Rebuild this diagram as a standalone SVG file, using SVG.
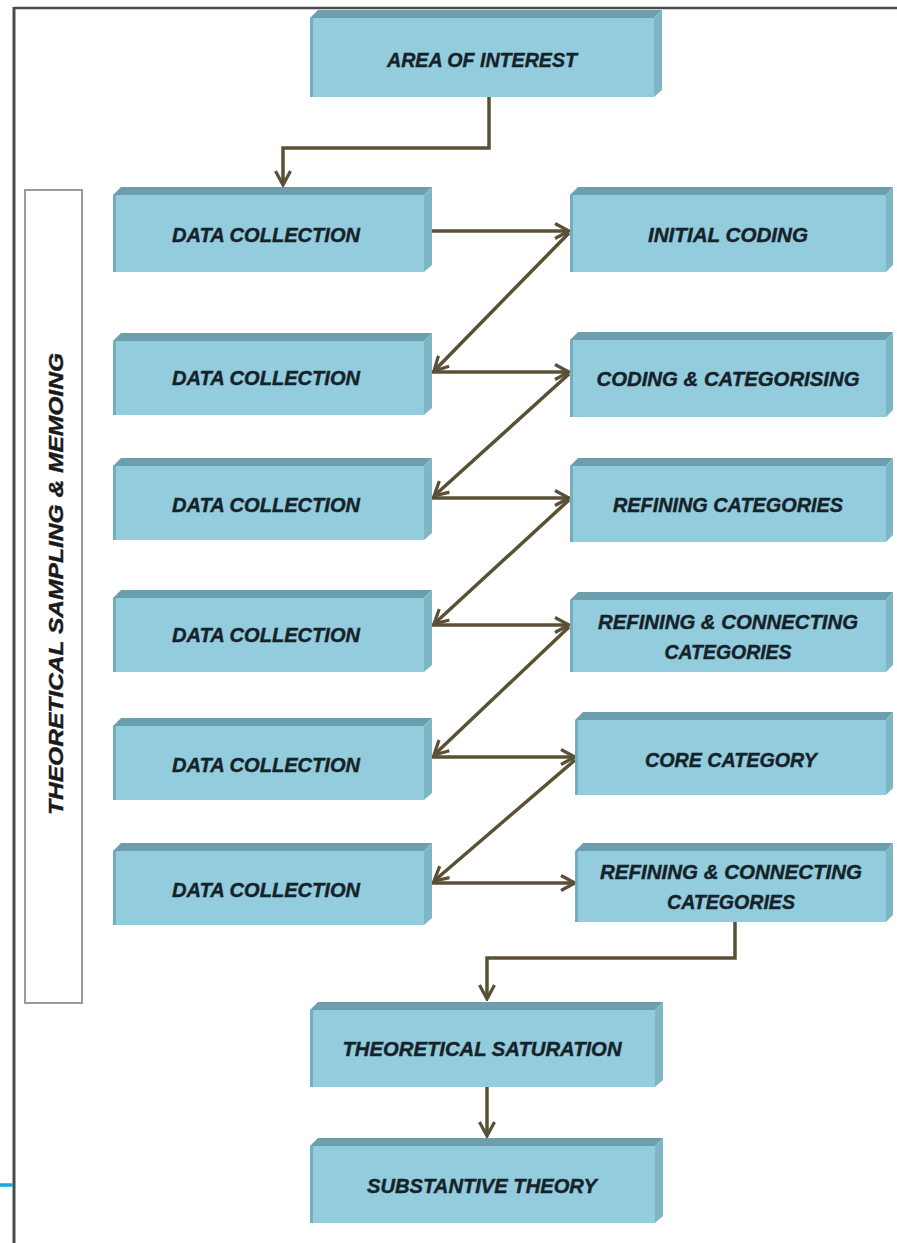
<svg xmlns="http://www.w3.org/2000/svg" width="897" height="1243" viewBox="0 0 897 1243">
<defs>
<style>
.front{fill:#93CCDC;}
.edge{fill:#74AEBE;}
.top{fill:#6B9FAE;}
.side{fill:#7FB6C5;}
.lbl{font-family:"Liberation Sans",Arial,sans-serif;font-weight:bold;font-style:italic;font-size:20px;fill:#16222a;stroke:#16222a;stroke-width:0.4;text-anchor:middle;}
.side-lbl{font-family:"Liberation Sans",Arial,sans-serif;font-weight:bold;font-style:italic;font-size:21px;fill:#1a1a1a;stroke:#1a1a1a;stroke-width:0.4;text-anchor:middle;}
.conn{fill:none;stroke:#5A5036;stroke-width:3.5;stroke-linejoin:miter;}
</style>
<marker id="arr" viewBox="0 0 18 18" refX="16" refY="9" markerWidth="18" markerHeight="18" markerUnits="userSpaceOnUse" orient="auto">
<path d="M2,1.5 L16,9 L2,16.5" fill="none" stroke="#5A5036" stroke-width="3.2"/>
</marker>
</defs>
<rect width="897" height="1243" fill="#ffffff"/>
<g id="frame">
<line x1="14" y1="8" x2="897" y2="8" stroke="#4a4a4a" stroke-width="2.5"/>
<line x1="14" y1="7" x2="14" y2="1243" stroke="#4a4a4a" stroke-width="3"/>
<line x1="0" y1="1185" x2="13" y2="1185" stroke="#12A9E6" stroke-width="3.5"/>
</g>
<g id="sidebar">
<rect x="25" y="190" width="57" height="813" fill="#ffffff" stroke="#9a9a9a" stroke-width="2"/>
<text class="side-lbl" transform="translate(63,584) rotate(-90)" x="0" y="0" textLength="462" lengthAdjust="spacingAndGlyphs">THEORETICAL  SAMPLING  &amp;  MEMOING</text>
</g>
<g id="connectors">
<path class="conn" d="M489,97 V148 H283 V185" marker-end="url(#arr)"/>
<path class="conn" d="M432,231 H569" marker-end="url(#arr)"/>
<path class="conn" d="M569,233 L434,371" marker-end="url(#arr)"/>
<path class="conn" d="M432,372 H569" marker-end="url(#arr)"/>
<path class="conn" d="M569,374 L434,496" marker-end="url(#arr)"/>
<path class="conn" d="M432,498 H569" marker-end="url(#arr)"/>
<path class="conn" d="M569,500 L434,624" marker-end="url(#arr)"/>
<path class="conn" d="M432,625 H569" marker-end="url(#arr)"/>
<path class="conn" d="M569,627 L434,755" marker-end="url(#arr)"/>
<path class="conn" d="M432,757 H575" marker-end="url(#arr)"/>
<path class="conn" d="M575,760 L434,881" marker-end="url(#arr)"/>
<path class="conn" d="M432,883 H575" marker-end="url(#arr)"/>
<path class="conn" d="M735,922 V958 H487 V999" marker-end="url(#arr)"/>
<path class="conn" d="M487,1087 V1136" marker-end="url(#arr)"/>
</g>
<g id="n-area">
<polygon class="top" points="310,18 318,10 662,10 654,18"/>
<polygon class="side" points="654,18 662,10 662,90 654,97"/>
<rect class="front" x="310" y="18" width="344" height="79"/>
<rect class="edge" x="310" y="18" width="3" height="79"/>
<text class="lbl" x="482" y="67" textLength="190" lengthAdjust="spacingAndGlyphs">AREA OF INTEREST</text>
</g>
<g id="n-dc1">
<polygon class="top" points="113,195 121,187 432,187 424,195"/>
<polygon class="side" points="424,195 432,187 432,265 424,272"/>
<rect class="front" x="113" y="195" width="311" height="77"/>
<rect class="edge" x="113" y="195" width="3" height="77"/>
<text class="lbl" x="266" y="242" textLength="188" lengthAdjust="spacingAndGlyphs">DATA COLLECTION</text>
</g>
<g id="n-dc2">
<polygon class="top" points="113,341 121,333 432,333 424,341"/>
<polygon class="side" points="424,341 432,333 432,408 424,415"/>
<rect class="front" x="113" y="341" width="311" height="74"/>
<rect class="edge" x="113" y="341" width="3" height="74"/>
<text class="lbl" x="266" y="385" textLength="188" lengthAdjust="spacingAndGlyphs">DATA COLLECTION</text>
</g>
<g id="n-dc3">
<polygon class="top" points="113,466 121,458 432,458 424,466"/>
<polygon class="side" points="424,466 432,458 432,533 424,540"/>
<rect class="front" x="113" y="466" width="311" height="74"/>
<rect class="edge" x="113" y="466" width="3" height="74"/>
<text class="lbl" x="266" y="512" textLength="188" lengthAdjust="spacingAndGlyphs">DATA COLLECTION</text>
</g>
<g id="n-dc4">
<polygon class="top" points="113,598 121,590 432,590 424,598"/>
<polygon class="side" points="424,598 432,590 432,665 424,672"/>
<rect class="front" x="113" y="598" width="311" height="74"/>
<rect class="edge" x="113" y="598" width="3" height="74"/>
<text class="lbl" x="266" y="642" textLength="188" lengthAdjust="spacingAndGlyphs">DATA COLLECTION</text>
</g>
<g id="n-dc5">
<polygon class="top" points="113,726 121,718 432,718 424,726"/>
<polygon class="side" points="424,726 432,718 432,793 424,800"/>
<rect class="front" x="113" y="726" width="311" height="74"/>
<rect class="edge" x="113" y="726" width="3" height="74"/>
<text class="lbl" x="266" y="772" textLength="188" lengthAdjust="spacingAndGlyphs">DATA COLLECTION</text>
</g>
<g id="n-dc6">
<polygon class="top" points="113,851 121,843 432,843 424,851"/>
<polygon class="side" points="424,851 432,843 432,918 424,925"/>
<rect class="front" x="113" y="851" width="311" height="74"/>
<rect class="edge" x="113" y="851" width="3" height="74"/>
<text class="lbl" x="266" y="897" textLength="188" lengthAdjust="spacingAndGlyphs">DATA COLLECTION</text>
</g>
<g id="n-initial">
<polygon class="top" points="570,195 578,187 893,187 886,195"/>
<polygon class="side" points="886,195 893,187 893,265 886,272"/>
<rect class="front" x="570" y="195" width="316" height="77"/>
<rect class="edge" x="570" y="195" width="3" height="77"/>
<text class="lbl" x="728" y="242" textLength="160" lengthAdjust="spacingAndGlyphs">INITIAL CODING</text>
</g>
<g id="n-coding">
<polygon class="top" points="570,340 578,332 893,332 886,340"/>
<polygon class="side" points="886,340 893,332 893,410 886,417"/>
<rect class="front" x="570" y="340" width="316" height="77"/>
<rect class="edge" x="570" y="340" width="3" height="77"/>
<text class="lbl" x="728" y="386" textLength="263" lengthAdjust="spacingAndGlyphs">CODING &amp; CATEGORISING</text>
</g>
<g id="n-refining">
<polygon class="top" points="570,466 578,458 893,458 886,466"/>
<polygon class="side" points="886,466 893,458 893,535 886,542"/>
<rect class="front" x="570" y="466" width="316" height="76"/>
<rect class="edge" x="570" y="466" width="3" height="76"/>
<text class="lbl" x="728" y="512" textLength="230" lengthAdjust="spacingAndGlyphs">REFINING CATEGORIES</text>
</g>
<g id="n-refconn1">
<polygon class="top" points="570,600 578,592 893,592 886,600"/>
<polygon class="side" points="886,600 893,592 893,665 886,672"/>
<rect class="front" x="570" y="600" width="316" height="72"/>
<rect class="edge" x="570" y="600" width="3" height="72"/>
<text class="lbl" x="728" y="629" textLength="260" lengthAdjust="spacingAndGlyphs">REFINING &amp; CONNECTING</text>
<text class="lbl" x="728" y="659" textLength="127" lengthAdjust="spacingAndGlyphs">CATEGORIES</text>
</g>
<g id="n-core">
<polygon class="top" points="575,720 583,712 893,712 886,720"/>
<polygon class="side" points="886,720 893,712 893,788 886,795"/>
<rect class="front" x="575" y="720" width="311" height="75"/>
<rect class="edge" x="575" y="720" width="3" height="75"/>
<text class="lbl" x="731" y="767" textLength="172" lengthAdjust="spacingAndGlyphs">CORE CATEGORY</text>
</g>
<g id="n-refconn2">
<polygon class="top" points="575,851 583,843 893,843 886,851"/>
<polygon class="side" points="886,851 893,843 893,915 886,922"/>
<rect class="front" x="575" y="851" width="311" height="71"/>
<rect class="edge" x="575" y="851" width="3" height="71"/>
<text class="lbl" x="731" y="879" textLength="262" lengthAdjust="spacingAndGlyphs">REFINING &amp; CONNECTING</text>
<text class="lbl" x="731" y="909" textLength="128" lengthAdjust="spacingAndGlyphs">CATEGORIES</text>
</g>
<g id="n-saturation">
<polygon class="top" points="310,1010 318,1002 663,1002 655,1010"/>
<polygon class="side" points="655,1010 663,1002 663,1080 655,1087"/>
<rect class="front" x="310" y="1010" width="345" height="77"/>
<rect class="edge" x="310" y="1010" width="3" height="77"/>
<text class="lbl" x="482" y="1056" textLength="279" lengthAdjust="spacingAndGlyphs">THEORETICAL SATURATION</text>
</g>
<g id="n-theory">
<polygon class="top" points="310,1146 318,1138 663,1138 655,1146"/>
<polygon class="side" points="655,1146 663,1138 663,1216 655,1223"/>
<rect class="front" x="310" y="1146" width="345" height="77"/>
<rect class="edge" x="310" y="1146" width="3" height="77"/>
<text class="lbl" x="482" y="1193" textLength="230" lengthAdjust="spacingAndGlyphs">SUBSTANTIVE THEORY</text>
</g>
</svg>
